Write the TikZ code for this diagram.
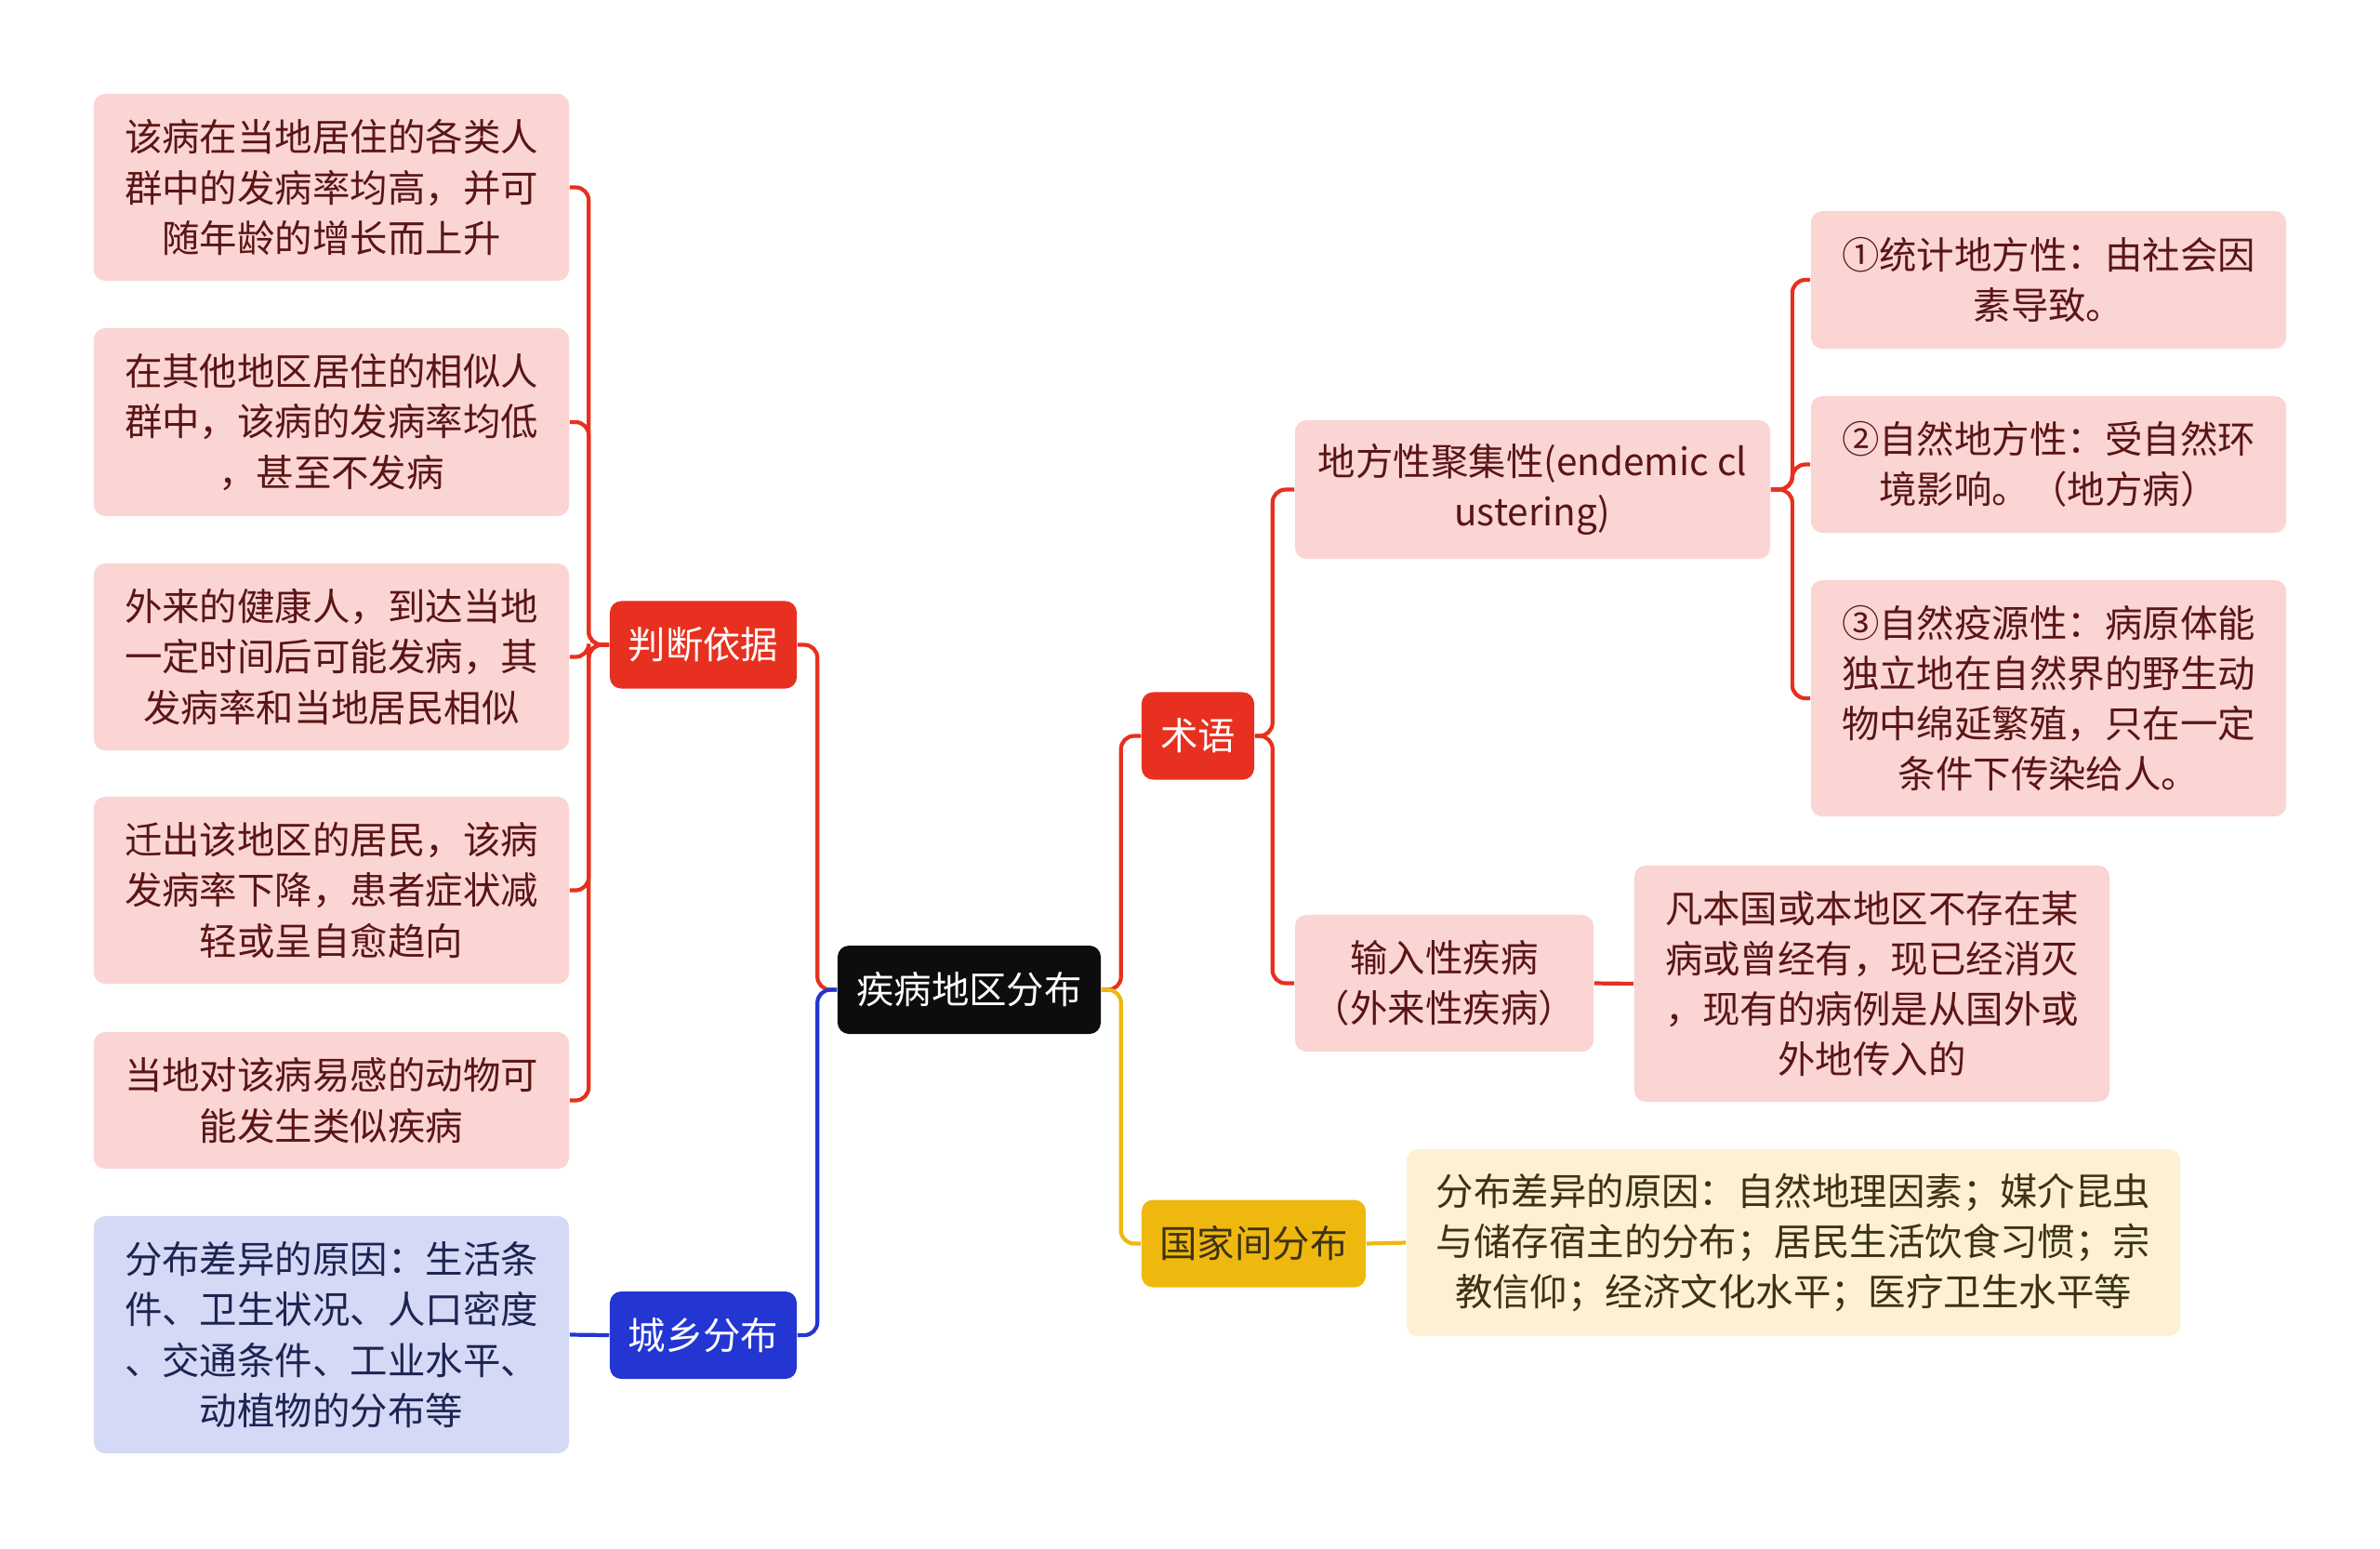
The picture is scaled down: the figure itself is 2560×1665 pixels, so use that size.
\documentclass[tikz,border=0pt]{standalone}
\usepackage{fontspec}
\setmainfont{Noto Sans CJK SC}

\definecolor{rojo}{HTML}{E7301F}
\definecolor{azul}{HTML}{2336D2}
\definecolor{amarillo}{HTML}{EEB80F}
\definecolor{rosa}{HTML}{FAD5D3}
\definecolor{celeste}{HTML}{D4D9F6}
\definecolor{crema}{HTML}{FCF2D3}
\definecolor{txtrojo}{HTML}{5A1515}
\definecolor{txtazul}{HTML}{1E2352}
\definecolor{txtocre}{HTML}{3E3214}

\newcommand{\cajafont}{\fontsize{11.5pt}{15.4pt}\selectfont}

\begin{document}
\begin{tikzpicture}[
  x=0.01cm, y=-0.01cm,
  hoja/.style={rectangle, rounded corners=3.5pt, fill=rosa, text=txtrojo, align=center, inner sep=0pt, minimum width=5.11cm, font=\cajafont},
  rama/.style={rectangle, rounded corners=3.5pt, text=white, align=center, inner sep=0pt, minimum height=0.94cm, font=\cajafont},
  raiz/.style={rama, fill=black!95, minimum width=2.83cm, minimum height=0.95cm},
  enlace/.style={line width=1.2pt, rounded corners=4pt}
]
  \useasboundingbox (0,0) rectangle (2560,1665);

  % --- NODO CENTRAL ---
  \node[raiz] (raiz) at (1042.5,1064.5) {疾病地区分布};

  % --- RAMAS ---
  \node[rama, fill=rojo, minimum width=2.01cm] (juicio) at (756.5,693.5) {判断依据};
  \node[rama, fill=azul, minimum width=2.01cm] (urbano) at (756.5,1436) {城乡分布};
  \node[rama, fill=rojo, minimum width=1.21cm] (termino) at (1288.5,791.5) {术语};
  \node[rama, fill=amarillo, text=txtocre, minimum width=2.41cm] (pais) at (1348.5,1337.5) {国家间分布};

  % --- HOJAS IZQUIERDA ---
  \node[hoja, minimum height=2.01cm] (j1) at (356.5,201.5) {该病在当地居住的各类人\\群中的发病率均高，并可\\随年龄的增长而上升};
  \node[hoja, minimum height=2.02cm] (j2) at (356.5,454) {在其他地区居住的相似人\\群中，该病的发病率均低\\，甚至不发病};
  \node[hoja, minimum height=2.01cm] (j3) at (356.5,706.5) {外来的健康人，到达当地\\一定时间后可能发病，其\\发病率和当地居民相似};
  \node[hoja, minimum height=2.01cm] (j4) at (356.5,957.5) {迁出该地区的居民，该病\\发病率下降，患者症状减\\轻或呈自愈趋向};
  \node[hoja, minimum height=1.47cm] (j5) at (356.5,1183.5) {当地对该病易感的动物可\\能发生类似疾病};
  \node[hoja, fill=celeste, text=txtazul, minimum height=2.55cm] (u1) at (356.5,1435.5) {分布差异的原因：生活条\\件、卫生状况、人口密度\\、交通条件、工业水平、\\动植物的分布等};

  % --- HOJAS DERECHA ---
  \node[hoja, minimum height=1.49cm] (t1) at (1648.5,526.5) {地方性聚集性(endemic cl\\ustering)};
  \node[hoja, minimum width=3.21cm, minimum height=1.47cm] (t2) at (1553.5,1057.5) {输入性疾病\\（外来性疾病）};
  \node[hoja, minimum height=2.54cm] (t2a) at (2013.5,1058) {凡本国或本地区不存在某\\病或曾经有，现已经消灭\\，现有的病例是从国外或\\外地传入的};
  \node[hoja, minimum height=1.48cm] (d1) at (2203.5,301) {①统计地方性：由社会因\\素导致。};
  \node[hoja, minimum height=1.47cm] (d2) at (2203.5,499.5) {②自然地方性：受自然环\\境影响。（地方病）};
  \node[hoja, minimum height=2.54cm] (d3) at (2203.5,751) {③自然疫源性：病原体能\\独立地在自然界的野生动\\物中绵延繁殖，只在一定\\条件下传染给人。};
  \node[hoja, fill=crema, text=txtocre, minimum width=8.32cm, minimum height=2.01cm] (p1) at (1929,1336.5) {分布差异的原因：自然地理因素；媒介昆虫\\与储存宿主的分布；居民生活饮食习惯；宗\\教信仰；经济文化水平；医疗卫生水平等};

  % --- CONECTORES ---
  \draw[enlace, rojo] (raiz.west) -- ++(-21,0) |- (juicio.east);
  \draw[enlace, azul] (raiz.west) -- ++(-21,0) |- (urbano.east);
  \draw[enlace, rojo] (raiz.east) -- ++(21,0) |- (termino.west);
  \draw[enlace, amarillo] (raiz.east) -- ++(21,0) |- (pais.west);

  \foreach \h in {j1,j2,j3,j4,j5}
    \draw[enlace, rojo] (juicio.west) -- ++(-22,0) |- (\h.east);
  \draw[enlace, azul] (urbano.west) -- (u1.east);

  \draw[enlace, rojo] (termino.east) -- ++(19,0) |- (t1.west);
  \draw[enlace, rojo] (termino.east) -- ++(19,0) |- (t2.west);
  \foreach \h in {d1,d2,d3}
    \draw[enlace, rojo] (t1.east) -- ++(23,0) |- (\h.west);
  \draw[enlace, rojo] (t2.east) -- (t2a.west);
  \draw[enlace, amarillo] (pais.east) -- (p1.west);
\end{tikzpicture}
\end{document}
